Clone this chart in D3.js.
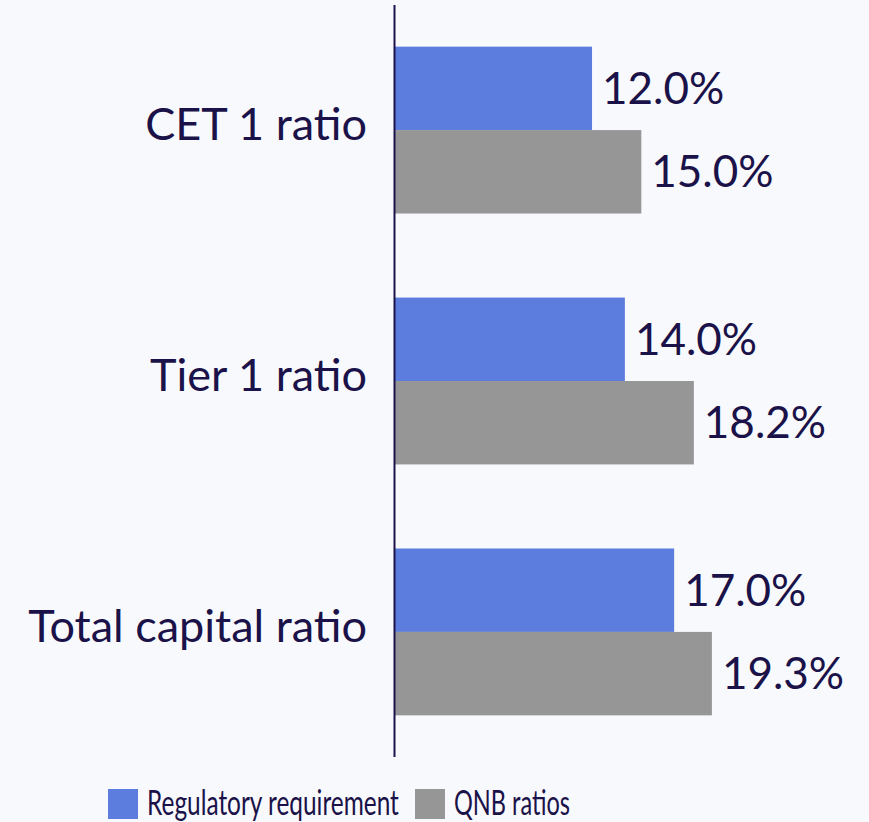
<!DOCTYPE html>
<html>
<head>
<meta charset="utf-8">
<script src="https://cdn.jsdelivr.net/npm/d3@7"></script>
<style>
  body { margin: 0; background: #f8f9fd; }
  svg { display: block; font-family: Lato, "Open Sans", sans-serif; }
</style>
</head>
<body>
<script>
const categories = ["CET 1 ratio", "Tier 1 ratio", "Total capital ratio"];
const series = ["Regulatory requirement", "QNB ratios"];
const regulatory = [12.0, 14.0, 17.0];
const qnb = [15.0, 18.2, 19.3];
const colors = ["#5c7ddd", "#969696"];
const legendWidths = [252, 116];

const width = 869, height = 822;
const ink = "#1a1248";

const svg = d3.select("body").append("svg")
    .attr("width", width)
    .attr("height", height);

svg.append("rect")
   .attr("width", width)
   .attr("height", height)
   .attr("fill", "#f8f9fd");

const y = d3.scaleBand()
            .domain(categories)
            .range([5, 757])
            .paddingInner(0.335)
            .paddingOuter(0.166);

const ySub = d3.scaleBand()
               .domain(series)
               .range([0, y.bandwidth()]);

const x = d3.scaleLinear()
            .domain([0, 20])
            .range([395, 395 + 328.4]);

const rows = categories.map((c, i) => ({cat: c, vals: [regulatory[i], qnb[i]]}));

const groups = svg.selectAll("g.grp")
   .data(rows)
   .enter()
   .append("g")
   .attr("class", "grp")
   .attr("transform", d => `translate(0, ${y(d.cat)})`);

groups.selectAll("rect")
   .data(d => d.vals.map((v, j) => ({s: series[j], v: v, j: j})))
   .enter()
   .append("rect")
   .attr("x", x(0))
   .attr("y", d => ySub(d.s))
   .attr("width", d => x(d.v) - x(0))
   .attr("height", ySub.bandwidth())
   .attr("fill", d => colors[d.j]);

groups.selectAll("text.val")
   .data(d => d.vals.map((v, j) => ({s: series[j], v: v, j: j})))
   .enter()
   .append("text")
   .attr("class", "val")
   .attr("x", d => x(d.v) + 10)
   .attr("y", d => ySub(d.s) + ySub.bandwidth() / 2 + 15.5)
   .attr("font-size", 44)
   .attr("fill", ink)
   .text(d => d.v.toFixed(1) + "%");

// category labels
groups.append("text")
   .attr("x", 367)
   .attr("y", y.bandwidth() / 2 + 10)
   .attr("text-anchor", "end")
   .attr("font-size", 45)
   .attr("fill", ink)
   .text(d => d.cat);

// vertical axis line
svg.append("line")
   .attr("x1", x(0) - 0.5).attr("x2", x(0) - 0.5)
   .attr("y1", 5).attr("y2", 757)
   .attr("stroke", ink)
   .attr("stroke-width", 2);

// legend (text squeezed horizontally like the original)
const legendX = [108, 415];
const lg = svg.selectAll("g.leg")
   .data(series)
   .enter()
   .append("g")
   .attr("class", "leg")
   .attr("transform", (d, i) => `translate(${legendX[i]}, 789)`);

lg.append("rect")
  .attr("width", 30)
  .attr("height", 30)
  .attr("fill", (d, i) => colors[i]);

lg.append("text")
  .attr("font-size", 35)
  .attr("fill", ink)
  .text(d => d)
  .each(function(d, i) {
    const w = this.getComputedTextLength();
    d3.select(this).attr("transform", `translate(39, 26) scale(${legendWidths[i] / w}, 1)`);
  });
</script>
</body>
</html>
